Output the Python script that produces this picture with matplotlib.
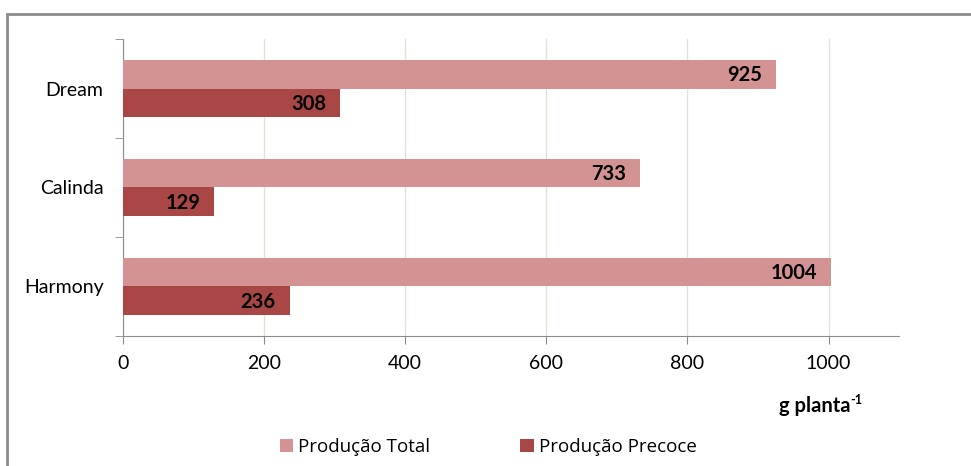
import numpy as np
import matplotlib.pyplot as plt
from matplotlib.patches import Rectangle

cultivares = ['Dream', 'Calinda', 'Harmony']
prod_total = [925, 733, 1004]
prod_precoce = [308, 129, 236]

cor_total = '#d39392'
cor_precoce = '#a94646'

plt.rcParams['font.family'] = ['Lato', 'DejaVu Sans']

fig = plt.figure(figsize=(9.71, 4.66), dpi=100)
ax = fig.add_axes([0.1267, 0.279, 0.7992, 0.6373])

# moldura em volta do gráfico
fig.patches.append(Rectangle((7/971, -0.1), 1.2, 0.1 + 1 - 13.5/466, transform=fig.transFigure,
                             fill=False, edgecolor='#8c8c8c', linewidth=2))

y = np.arange(len(cultivares))[::-1]
h = 0.29
b1 = ax.barh(y + h/2, prod_total, height=h, color=cor_total, label='Produção Total', zorder=3)
b2 = ax.barh(y - h/2, prod_precoce, height=h, color=cor_precoce, label='Produção Precoce', zorder=3)

for barras, vals in [(b1, prod_total), (b2, prod_precoce)]:
    for rect, v in zip(barras, vals):
        ax.annotate(str(v), (v, rect.get_y() + rect.get_height()/2), xytext=(-10, -0.5),
                    textcoords='offset points', ha='right', va='center',
                    fontsize=14.5, fontweight='bold', color='black', zorder=4)

ax.set_xlim(0, 1100)
ax.set_ylim(-0.5, 2.5)
ax.set_xticks(np.arange(0, 1001, 200))
ax.set_yticks(y)
ax.set_yticklabels(cultivares)
ax.set_yticks([-0.5, 0.5, 1.5, 2.5], minor=True)
ax.tick_params(axis='y', which='major', length=0, pad=14, labelsize=14)
ax.tick_params(axis='y', which='minor', length=6, color='#8c8c8c', direction='out')
ax.tick_params(axis='x', length=6, color='#8c8c8c', labelsize=14, pad=8)

ax.xaxis.grid(True, color='#e6e2d8', linewidth=1, zorder=0)
for s in ['top', 'right']:
    ax.spines[s].set_visible(False)
ax.spines['left'].set_color('#8c8c8c')
ax.spines['bottom'].set_color('#8c8c8c')

# rótulo do eixo x com expoente
fig.text(850/971, 1 - 406/466, 'g planta', ha='right', va='center',
         fontsize=14.5, fontweight='bold')
fig.text(850/971, 1 - 400/466, '-1', ha='left', va='center',
         fontsize=9, fontweight='bold')

fig.legend(handles=[b1, b2], loc='center', bbox_to_anchor=(0.503, 1 - 447/466), ncol=2,
           frameon=False, handlelength=0.7, handleheight=0.7,
           handletextpad=0.3, columnspacing=4.8, prop={'family': 'Open Sans', 'size': 13.5})

fig.savefig('out.png', dpi=100)
